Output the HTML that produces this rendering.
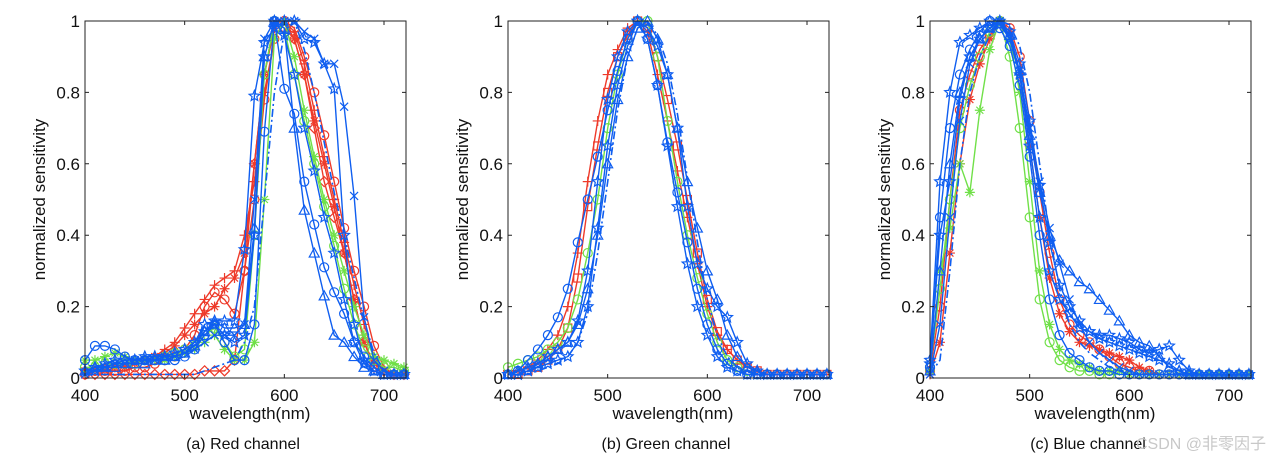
<!DOCTYPE html>
<html><head><meta charset="utf-8"><style>
body{margin:0;background:#fff;width:1278px;height:463px;overflow:hidden}
svg{position:absolute;left:0;top:0}
text{font-family:"Liberation Sans","Noto Sans CJK SC",sans-serif}
</style></head><body>
<svg id="chart" width="1278" height="463"></svg>
<script>
const wavelengths=[400,410,420,430,440,450,460,470,480,490,500,510,520,530,540,550,560,570,580,590,600,610,620,630,640,650,660,670,680,690,700,710,720];
const xTicks=[400,500,600,700];
const yTicks=[0,0.2,0.4,0.6,0.8,1];
const yTickLabels=["0","0.2","0.4","0.6","0.8","1"];
const captions=["(a) Red channel","(b) Green channel","(c) Blue channel"];
// Red channel
const redR1=[.02,.02,.03,.03,.03,.04,.05,.06,.08,.1,.14,.18,.22,.26,.28,.3,.4,.55,.8,.95,1,.97,.88,.75,.62,.5,.38,.26,.15,.06,.02,.01,.01];
const redR2=[.01,.02,.02,.02,.02,.03,.03,.04,.05,.06,.08,.12,.2,.24,.22,.18,.3,.5,.78,.95,1,.98,.9,.8,.68,.55,.42,.3,.2,.09,.03,.01,.01];
const redR3=[.01,.01,.01,.01,.01,.01,.01,.01,.01,.01,.01,.01,.02,.02,.02,.05,.3,.6,.85,1,.98,.95,.85,.7,.55,.45,.35,.22,.1,.03,.02,.01,.01];
const redR4=[.02,.02,.02,.03,.03,.04,.05,.06,.07,.09,.12,.15,.18,.2,.25,.28,.35,.6,.85,.98,1,.95,.85,.72,.6,.48,.35,.22,.1,.04,.02,.01,.01];
const redG1=[.05,.05,.06,.07,.06,.05,.05,.05,.05,.06,.07,.08,.1,.12,.08,.05,.05,.1,.5,.95,1,.9,.75,.62,.5,.4,.3,.2,.12,.06,.05,.04,.03];
const redG2=[.03,.03,.04,.04,.04,.04,.05,.05,.06,.07,.08,.09,.12,.14,.1,.06,.08,.4,.85,1,.98,.85,.72,.6,.48,.37,.25,.15,.08,.05,.03,.03,.02];
const redB1=[.05,.09,.09,.08,.06,.05,.05,.05,.05,.05,.06,.08,.12,.15,.1,.05,.05,.15,.69,1,.81,.74,.55,.43,.31,.24,.18,.1,.06,.03,.01,.01,.01];
const redB2=[.02,.03,.04,.05,.05,.05,.06,.06,.06,.07,.08,.1,.15,.16,.16,.16,.36,.79,.94,.98,1,1,.95,.94,.88,.81,.4,.15,.05,.02,.01,.01,.01];
const redB3=[.01,.02,.03,.04,.04,.05,.05,.05,.06,.06,.07,.08,.1,.12,.12,.12,.15,.5,.95,1,1,1,.97,.95,.88,.88,.76,.51,.17,.05,.02,.01,.01];
const redB4=[.02,.03,.03,.03,.04,.04,.04,.05,.05,.06,.07,.09,.13,.16,.14,.14,.15,.42,.9,1,.98,.7,.47,.35,.23,.12,.1,.06,.03,.02,.01,.01,.01];
const redB5=[.01,.01,.01,.01,.01,.01,.01,.01,.01,.01,.01,.01,.02,.03,.04,.05,.1,.2,.5,.8,.97,1,.92,.8,.66,.52,.4,.28,.16,.07,.02,.01,.01];
const redB6=[.02,.02,.03,.04,.05,.05,.05,.06,.06,.07,.08,.1,.13,.15,.12,.1,.12,.4,.9,1,.96,.85,.7,.58,.45,.35,.22,.1,.04,.02,.01,.01,.01];
// Green channel
const grnR1=[.02,.02,.03,.05,.08,.12,.2,.35,.55,.72,.85,.92,.98,1,.97,.85,.72,.58,.45,.32,.2,.12,.08,.05,.03,.02,.01,.01,.01,.01,.01,.01,.01];
const grnR2=[.01,.01,.02,.03,.05,.08,.14,.28,.48,.65,.8,.9,.96,1,.98,.9,.78,.65,.5,.35,.22,.13,.08,.05,.03,.02,.01,.01,.01,.01,.01,.01,.01];
const grnG1=[.03,.04,.05,.06,.08,.1,.14,.22,.35,.5,.7,.85,.95,1,1,.9,.72,.55,.4,.28,.18,.1,.05,.03,.02,.01,.01,.01,.01,.01,.01,.01,.01];
const grnB1=[.01,.02,.05,.08,.12,.17,.25,.38,.5,.62,.75,.86,.95,1,.95,.82,.66,.52,.38,.25,.15,.08,.04,.02,.01,.01,.01,.01,.01,.01,.01,.01,.01];
const grnB2=[.01,.01,.02,.04,.06,.08,.1,.16,.3,.55,.78,.9,.97,1,.98,.93,.85,.7,.48,.32,.25,.2,.17,.1,.04,.02,.01,.01,.01,.01,.01,.01,.01];
const grnB3=[.01,.02,.03,.04,.06,.08,.1,.15,.25,.4,.6,.78,.9,.98,1,.95,.85,.7,.55,.42,.3,.22,.12,.06,.03,.02,.01,.01,.01,.01,.01,.01,.01];
const grnB4=[.01,.01,.02,.03,.04,.05,.06,.1,.2,.42,.65,.82,.93,1,.95,.82,.65,.48,.32,.2,.12,.06,.03,.02,.01,.01,.01,.01,.01,.01,.01,.01,.01];
const grnB5=[.01,.01,.01,.02,.03,.04,.06,.1,.18,.35,.55,.75,.9,.98,1,.96,.88,.74,.56,.38,.22,.12,.06,.03,.02,.01,.01,.01,.01,.01,.01,.01,.01];
// Blue channel
const bluR1=[.02,.2,.5,.75,.85,.92,.96,1,.98,.9,.72,.52,.35,.22,.15,.12,.1,.08,.06,.04,.03,.02,.02,.01,.01,.01,.01,.01,.01,.01,.01,.01,.01];
const bluR2=[.01,.1,.35,.6,.78,.88,.95,1,.97,.85,.65,.45,.28,.18,.13,.1,.09,.08,.07,.06,.05,.03,.02,.01,.01,.01,.01,.01,.01,.01,.01,.01,.01];
const bluG1=[.02,.3,.42,.6,.52,.75,.92,1,.95,.8,.55,.3,.15,.08,.05,.04,.03,.02,.02,.02,.01,.01,.01,.01,.01,.01,.01,.01,.01,.01,.01,.01,.01];
const bluG2=[.03,.25,.5,.7,.82,.9,.97,1,.9,.7,.45,.22,.1,.05,.03,.02,.02,.01,.01,.01,.01,.01,.01,.01,.01,.01,.01,.01,.01,.01,.01,.01,.01];
const bluB1=[.03,.45,.7,.85,.92,.97,1,.98,.93,.82,.62,.4,.22,.12,.07,.05,.03,.02,.02,.01,.01,.01,.01,.01,.01,.01,.01,.01,.01,.01,.01,.01,.01];
const bluB2=[.02,.3,.6,.8,.9,.95,.98,1,.96,.86,.68,.52,.4,.33,.3,.27,.25,.22,.19,.16,.12,.1,.09,.06,.03,.02,.01,.01,.01,.01,.01,.01,.01];
const bluB3=[.05,.55,.8,.94,.96,.98,1,.99,.95,.85,.65,.45,.3,.22,.18,.14,.13,.12,.12,.11,.1,.08,.07,.08,.09,.05,.02,.01,.01,.01,.01,.01,.01];
const bluB4=[.01,.15,.45,.72,.88,.95,.98,1,.95,.85,.7,.55,.42,.32,.22,.15,.1,.07,.05,.03,.02,.01,.01,.01,.01,.01,.01,.01,.01,.01,.01,.01,.01];
const bluB5=[.01,.05,.3,.6,.8,.9,.96,1,.99,.93,.8,.6,.4,.25,.15,.1,.07,.05,.03,.02,.01,.01,.01,.01,.01,.01,.01,.01,.01,.01,.01,.01,.01];
const bluB6=[.04,.4,.55,.78,.9,.95,.98,1,.97,.88,.72,.54,.38,.26,.2,.16,.13,.11,.1,.09,.08,.07,.06,.05,.04,.02,.01,.01,.01,.01,.01,.01,.01];

const RED="#ee3a2a",GRN="#70e048",BLU="#0f5ef0";
const panels=[
 {left:85,series:[[redR1,RED,"plus"],[redR2,RED,"circle"],[redR3,RED,"diamond"],[redR4,RED,"asterisk"],[redG1,GRN,"asterisk"],[redG2,GRN,"circle"],[redB1,BLU,"circle"],[redB2,BLU,"star"],[redB3,BLU,"x"],[redB4,BLU,"triangle"],[redB6,BLU,"star"],[redB5,BLU,"dashdot"]]},
 {left:508,series:[[grnR1,RED,"plus"],[grnR2,RED,"square"],[grnG1,GRN,"circle"],[grnB1,BLU,"circle"],[grnB2,BLU,"star"],[grnB3,BLU,"triangle"],[grnB4,BLU,"star"],[grnB5,BLU,"dashdot"]]},
 {left:930,series:[[bluR1,RED,"circle"],[bluR2,RED,"asterisk"],[bluG1,GRN,"asterisk"],[bluG2,GRN,"circle"],[bluB1,BLU,"circle"],[bluB2,BLU,"triangle"],[bluB3,BLU,"star"],[bluB4,BLU,"x"],[bluB6,BLU,"star"],[bluB5,BLU,"dashdot"]]}
];
const svg=document.getElementById('chart');
const NS="http://www.w3.org/2000/svg";
function mk(tag,attrs,parent){const e=document.createElementNS(NS,tag);for(const k in attrs)e.setAttribute(k,attrs[k]);parent.appendChild(e);return e;}
const TOP=21,BOT=378,W=321;
function starPts(cx,cy,r){let p=[];for(let i=0;i<10;i++){const a=-Math.PI/2+i*Math.PI/5;const rr=i%2?r*0.45:r;p.push((cx+rr*Math.cos(a)).toFixed(1)+","+(cy+rr*Math.sin(a)).toFixed(1));}return p.join(" ");}
function marker(g,type,x,y,c){
 const s={fill:"none",stroke:c,"stroke-width":1.2};let m;
 if(type==="circle")m=mk('circle',Object.assign({cx:x,cy:y,r:4.5},s),g);
 else if(type==="square")m=mk('rect',Object.assign({x:x-4,y:y-4,width:8,height:8},s),g);
 else if(type==="diamond")m=mk('polygon',Object.assign({points:`${x},${y-5} ${x+5},${y} ${x},${y+5} ${x-5},${y}`},s),g);
 else if(type==="triangle")m=mk('polygon',Object.assign({points:`${x},${y-5} ${x+5},${y+4} ${x-5},${y+4}`},s),g);
 else if(type==="star")m=mk('polygon',Object.assign({points:starPts(x,y,5.5)},s),g);
 else if(type==="plus")m=mk('path',Object.assign({d:`M${x-5},${y}h10M${x},${y-5}v10`},s),g);
 else if(type==="x")m=mk('path',Object.assign({d:`M${x-4},${y-4}l8,8M${x-4},${y+4}l8,-8`},s),g);
 else if(type==="asterisk")m=mk('path',Object.assign({d:`M${x-5},${y}h10M${x},${y-5}v10M${x-3.5},${y-3.5}l7,7M${x-3.5},${y+3.5}l7,-7`},s),g);
 else return;
 
 
}
panels.forEach((p,pi)=>{
 const L=p.left;
 const xs=v=>L+(v-400)*(299/300);
 const ys=v=>BOT-v*(BOT-TOP);
 const g=mk('g',{},svg);
 
 
 p.series.forEach((s,si)=>{
  const [vals,col,type]=s;
  const sg=mk('g',{},g);
  
  
  const pts=vals.map((v,i)=>xs(wavelengths[i]).toFixed(1)+","+ys(v).toFixed(1)).join(" ");
  const pl=mk('polyline',{points:pts,fill:"none",stroke:col,"stroke-width":type==="dashdot"?1.6:1.4},sg);
  if(type==="dashdot")pl.setAttribute('stroke-dasharray','8,3,2,3');
  
  
  vals.forEach((v,i)=>marker(sg,type,xs(wavelengths[i]),ys(v),col));
 });
 const box=mk('rect',{x:L,y:TOP,width:W,height:BOT-TOP,fill:"none",stroke:"#222","stroke-width":1},g);
 
 
 xTicks.forEach(t=>{
  const x=xs(t);
  mk('path',{d:`M${x},${BOT}v-4M${x},${TOP}v4`,stroke:"#222"},g);
  const tx=mk('text',{x:x,y:BOT+23,"font-size":17,"text-anchor":"middle",fill:"#111"},g);
  tx.textContent=t;
  
  
 });
 yTicks.forEach((t,i)=>{
  const y=ys(t);
  mk('path',{d:`M${L},${y}h4M${L+W},${y}h-4`,stroke:"#222"},g);
  const ty=mk('text',{x:L-5,y:y+6,"font-size":17,"text-anchor":"end",fill:"#111"},g);
  ty.textContent=yTickLabels[i];
  
  
 });
 const xl=mk('text',{x:L+165,y:419,"font-size":17,"text-anchor":"middle",fill:"#111"},g);
 xl.textContent="wavelength(nm)";
 
 
 const yl=mk('text',{x:0,y:0,"font-size":17,"text-anchor":"middle",fill:"#111",transform:`translate(${L-40},${(TOP+BOT)/2}) rotate(-90)`},g);
 yl.textContent="normalized sensitivity";
 
 
 const cp=mk('text',{x:L+158,y:449,"font-size":16,"text-anchor":"middle",fill:"#111"},g);
 cp.textContent=captions[pi];
 
 
});
const wm=mk('text',{x:1266,y:449,"font-size":16,"text-anchor":"end",fill:"#c8c8c8"},svg);
wm.textContent="CSDN @非零因子";


</script>
</body></html>
